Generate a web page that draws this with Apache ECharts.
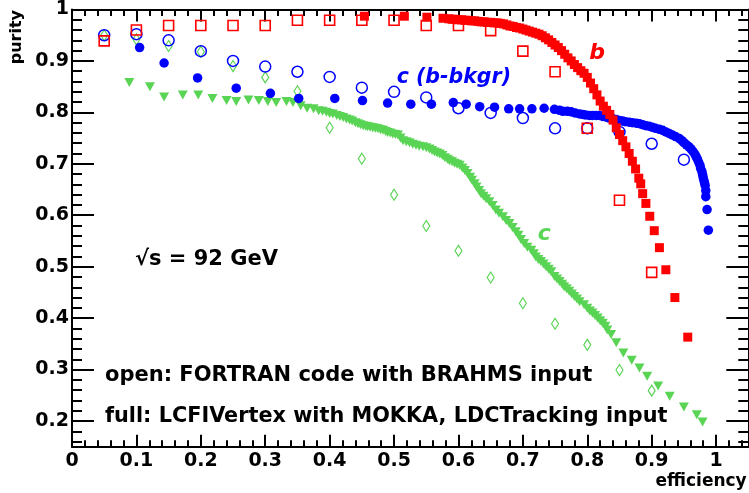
<!DOCTYPE html>
<html><head><meta charset="utf-8">
<script src="https://cdn.jsdelivr.net/npm/echarts@6/dist/echarts.min.js"></script>
<style>html,body{margin:0;padding:0;background:#fff}#c{width:749px;height:493px}</style>
</head><body><div id="c"></div>
<script>
// ---- tick positions ----
const xMajor = [0,0.1,0.2,0.3,0.4,0.5,0.6,0.7,0.8,0.9,1.0];
const xMinor = [0.02,0.04,0.06,0.08,0.12,0.14,0.16,0.18,0.22,0.24,0.26,0.28,0.32,0.34,0.36,0.38,
  0.42,0.44,0.46,0.48,0.52,0.54,0.56,0.58,0.62,0.64,0.66,0.68,0.72,0.74,0.76,0.78,
  0.82,0.84,0.86,0.88,0.92,0.94,0.96,0.98,1.02,1.04];
const yMajor = [0.2,0.3,0.4,0.5,0.6,0.7,0.8,0.9,1.0];
const yMinor = [0.16,0.18,0.22,0.24,0.26,0.28,0.32,0.34,0.36,0.38,0.42,0.44,0.46,0.48,
  0.52,0.54,0.56,0.58,0.62,0.64,0.66,0.68,0.72,0.74,0.76,0.78,0.82,0.84,0.86,0.88,
  0.92,0.94,0.96,0.98];

// ---- open markers: FORTRAN code with BRAHMS input ----
const bOpenX = [0.05,0.1,0.15,0.2,0.25,0.3,0.35,0.4,0.45,0.5,0.55,0.6,0.65,0.7,0.75,0.8,0.85,0.9];
const bOpenY = [0.939,0.96,0.969,0.969,0.969,0.969,0.979,0.979,0.979,0.979,0.969,0.969,0.959,0.919,0.879,0.769,0.629,0.489];

const cbOpenX = [0.05,0.1,0.15,0.2,0.25,0.3,0.35,0.4,0.45,0.5,0.55,0.6,0.65,0.7,0.75,0.8,0.85,0.9,0.95];
const cbOpenY = [0.95,0.952,0.94,0.919,0.9,0.889,0.879,0.869,0.848,0.84,0.829,0.808,0.799,0.789,0.769,0.769,0.762,0.739,0.708];

const cOpenX = [0.05,0.1,0.15,0.2,0.25,0.3,0.35,0.4,0.45,0.5,0.55,0.6,0.65,0.7,0.75,0.8,0.85,0.9];
const cOpenY = [0.95,0.942,0.929,0.918,0.89,0.868,0.841,0.77,0.71,0.64,0.579,0.531,0.479,0.429,0.389,0.348,0.299,0.259];

// ---- full markers: LCFIVertex with MOKKA, LDCTracking input ----
const bFullX = [0.454,0.516,0.551,0.576,0.585,0.59,0.595,0.6,0.605,0.61,0.615,0.62,0.625,0.63,0.635,0.64,0.645,0.65,
  0.655,0.66,0.665,0.67,0.675,0.68,0.685,0.69,0.695,0.7,0.705,0.71,0.715,0.72,0.725,0.73,0.735,0.74,0.745,0.75,
  0.755,0.76,0.765,0.77,0.775,0.78,0.785,0.79,0.795,0.8,0.805,0.81,0.815,0.82,0.825,0.83,0.835,0.84,0.845,0.85,
  0.855,0.86,0.865,0.87,0.875,0.88,0.883,0.886,0.891,0.897,0.904,0.912,0.922,0.936,0.956];
const bFullY = [0.987,0.987,0.985,0.983,0.982,0.981,0.981,0.98,0.98,0.979,0.979,0.978,0.978,0.977,0.976,0.976,0.975,0.975,
  0.974,0.974,0.973,0.972,0.97,0.968,0.967,0.965,0.964,0.962,0.96,0.958,0.956,0.954,0.952,0.949,0.945,0.941,0.936,0.931,
  0.926,0.92,0.913,0.906,0.9,0.893,0.887,0.881,0.876,0.868,0.857,0.846,0.834,0.822,0.812,0.804,0.796,0.785,0.77,0.757,
  0.745,0.733,0.72,0.705,0.69,0.672,0.661,0.642,0.623,0.598,0.57,0.537,0.494,0.44,0.363];

const cbFullX = [0.105,0.143,0.195,0.255,0.308,0.352,0.408,0.451,0.49,0.526,0.558,0.592,0.612,0.633,0.656,0.678,0.695,0.714,
  0.733,0.749,0.757,0.762,0.769,0.775,0.781,0.788,0.793,0.797,0.803,0.808,0.814,0.819,0.824,0.829,0.834,0.839,0.845,
  0.85,0.855,0.859,0.865,0.87,0.876,0.881,0.886,0.891,0.896,0.901,0.906,0.912,0.917,0.922,0.927,0.932,0.937,0.943,
  0.947,0.95,0.954,0.958,0.961,0.964,0.967,0.969,0.971,0.973,0.975,0.976,0.978,0.979,0.98,0.981,0.982,0.983,0.984,
  0.984,0.986,0.988];
const cbFullY = [0.926,0.896,0.867,0.847,0.837,0.827,0.827,0.823,0.818,0.816,0.816,0.819,0.816,0.811,0.81,0.807,0.807,0.807,
  0.808,0.806,0.804,0.802,0.802,0.801,0.799,0.797,0.796,0.795,0.794,0.794,0.794,0.794,0.792,0.791,0.789,0.788,0.786,
  0.784,0.783,0.782,0.781,0.78,0.779,0.778,0.776,0.774,0.773,0.771,0.769,0.767,0.765,0.762,0.759,0.756,0.753,0.749,
  0.745,0.741,0.737,0.733,0.729,0.724,0.719,0.714,0.709,0.703,0.697,0.691,0.685,0.679,0.673,0.668,0.663,0.658,0.648,
  0.636,0.611,0.571];

const cFullX = [0.089,0.121,0.143,0.172,0.196,0.218,0.24,0.255,0.274,0.29,0.304,0.317,0.333,0.343,0.355,0.365,0.375,0.383,
  0.389,0.395,0.4,0.405,0.411,0.416,0.421,0.426,0.431,0.435,0.44,0.444,0.448,0.452,0.456,0.459,0.463,0.467,0.471,0.475,
  0.479,0.483,0.487,0.49,0.494,0.498,0.502,0.506,0.51,0.514,0.519,0.524,0.529,0.534,0.539,0.545,0.55,0.555,0.559,
  0.563,0.567,0.571,0.575,0.579,0.583,0.586,0.59,0.594,0.598,0.602,0.606,0.61,0.614,0.618,0.621,0.625,0.628,0.632,
  0.635,0.639,0.643,0.648,0.653,0.658,0.663,0.669,0.674,0.679,0.684,0.689,0.693,0.697,0.702,0.707,0.713,0.717,0.72,
  0.724,0.728,0.732,0.736,0.74,0.744,0.749,0.753,0.757,0.761,0.764,0.768,0.772,0.776,0.78,0.784,0.788,0.795,0.8,
  0.804,0.808,0.812,0.816,0.82,0.824,0.828,0.831,0.837,0.845,0.856,0.869,0.881,0.893,0.91,0.928,0.95,0.97,0.979];
const cFullY = [0.858,0.85,0.83,0.834,0.834,0.827,0.823,0.821,0.824,0.823,0.821,0.819,0.821,0.819,0.813,0.808,0.807,0.803,
  0.802,0.8,0.798,0.797,0.794,0.792,0.79,0.787,0.785,0.783,0.78,0.778,0.776,0.774,0.773,0.772,0.771,0.77,0.769,0.768,
  0.766,0.765,0.763,0.761,0.76,0.758,0.757,0.756,0.75,0.745,0.743,0.741,0.738,0.736,0.734,0.733,0.731,0.729,0.726,
  0.723,0.721,0.719,0.716,0.712,0.709,0.706,0.704,0.701,0.699,0.697,0.692,0.687,0.681,0.674,0.668,0.661,0.655,0.648,
  0.642,0.637,0.632,0.626,0.619,0.61,0.604,0.597,0.59,0.584,0.576,0.568,0.561,0.553,0.545,0.538,0.532,0.525,0.519,
  0.514,0.51,0.505,0.5,0.495,0.49,0.481,0.476,0.471,0.466,0.461,0.457,0.452,0.447,0.442,0.437,0.432,0.426,0.419,
  0.414,0.41,0.405,0.4,0.395,0.39,0.384,0.377,0.368,0.352,0.332,0.318,0.303,0.287,0.268,0.248,0.227,0.212,0.198];

const RED = '#ff0000', BLUE = '#0000ff', GREEN = 'rgb(89,212,84)';
const FONT = '"DejaVu Sans", sans-serif';
const zip = (xs, ys) => xs.map((x, i) => [x, ys[i]]);
const fmt = v => String(+(+v).toFixed(2));

function mkAxis(position, range, ticks, len, showLine, showLabel, margin) {
  return {
    type: 'value', position, min: range[0], max: range[1], gridIndex: 0,
    axisLine: { show: showLine, onZero: false, lineStyle: { color: '#000', width: 2 } },
    axisTick: { show: true, inside: true, length: len, customValues: ticks, lineStyle: { color: '#000', width: 2 } },
    axisLabel: showLabel ? {
      show: true, customValues: ticks, formatter: fmt, margin: margin,
      color: '#000', fontFamily: FONT, fontWeight: 'bold', fontSize: 19,
      showMinLabel: true, showMaxLabel: true
    } : { show: false },
    splitLine: { show: false }, minorTick: { show: false }, minorSplitLine: { show: false }
  };
}
const XR = [0, 1.05], YR = [0.15, 1.0];

function sc(name, xs, ys, symbol, size, style, z, rot) {
  return {
    type: 'scatter', name, data: zip(xs, ys), symbol, symbolSize: size, symbolRotate: rot || 0,
    itemStyle: Object.assign({ opacity: 1 }, style), z, silent: true, animation: false, clip: false,
    emphasis: { disabled: true }, xAxisIndex: 0, yAxisIndex: 0
  };
}
const hollow = (c, w) => ({ color: 'rgba(0,0,0,0)', borderColor: c, borderWidth: w });

function txt(text, x, y, size, color, opts) {
  return Object.assign({
    type: 'text', x, y, z: 100,
    style: Object.assign({
      text, fill: color, font: 'bold ' + size + 'px ' + FONT,
      textAlign: 'left', textVerticalAlign: 'middle'
    }, (opts && opts.style) || {})
  }, (opts && opts.el) || {});
}

const chart = echarts.init(document.getElementById('c'), null, { renderer: 'canvas' });
chart.setOption({
  animation: false,
  backgroundColor: '#fff',
  grid: { left: 72, right: 0.7, top: 8.4, bottom: 46.3, containLabel: false },
  xAxis: [
    mkAxis('bottom', XR, xMajor, 12, true, true, 5),
    mkAxis('bottom', XR, xMinor, 6.5, false, false),
    mkAxis('top', XR, xMajor, 12, true, false),
    mkAxis('top', XR, xMinor, 6.5, false, false)
  ],
  yAxis: [
    mkAxis('left', YR, yMajor, 22, true, true, 3),
    mkAxis('left', YR, yMinor, 10, false, false),
    mkAxis('right', YR, yMajor, 22, true, false),
    mkAxis('right', YR, yMinor, 10, false, false)
  ],
  series: [
    sc('c BRAHMS', cOpenX, cOpenY, 'diamond', [7, 11], hollow(GREEN, 1.2), 2),
    sc('c(b-bkgr) BRAHMS', cbOpenX, cbOpenY, 'circle', 11, hollow(BLUE, 1.5), 3),
    sc('b BRAHMS', bOpenX, bOpenY, 'rect', 10, hollow(RED, 1.6), 4),
    sc('c LCFI', cFullX, cFullY, 'triangle', [10, 9], { color: GREEN }, 5, 180),
    sc('c(b-bkgr) LCFI', cbFullX, cbFullY, 'circle', 9.5, { color: BLUE }, 6),
    sc('b LCFI', bFullX, bFullY, 'rect', 9, { color: RED }, 7)
  ],
  graphic: [
    txt('purity', 16.5, 10, 16, '#000', { style: { textAlign: 'right' }, el: { rotation: Math.PI / 2 } }),
    txt('efficiency', 746.7, 482, 17, '#000', { style: { textAlign: 'right' } }),
    txt('\u221As = 92 GeV', 135, 259.4, 21, '#000'),
    txt('open: FORTRAN code with BRAHMS input', 105, 375.4, 21, '#000'),
    txt('full: LCFIVertex with MOKKA, LDCTracking input', 105, 416.7, 20.8, '#000'),
    txt('c (b-bkgr)', 396.7, 77.2, 20.5, BLUE, { style: { font: 'italic bold 20.5px ' + FONT } }),
    txt('b', 589.3, 53.1, 22, RED, { style: { font: 'italic bold 22px ' + FONT } }),
    txt('c', 537.7, 234.1, 22, GREEN, { style: { font: 'italic bold 22px ' + FONT } })
  ]
});
</script></body></html>
